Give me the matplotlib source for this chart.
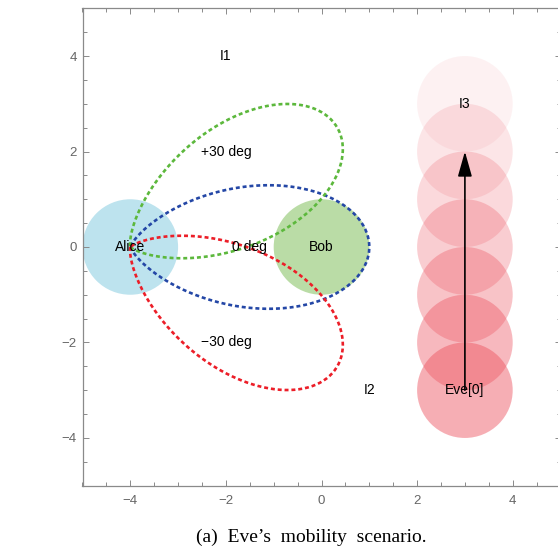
#!/usr/bin/env python3
"""
Eve's mobility scenario: Alice beam lobes (0 / +30 / -30 deg), Bob,
and Eve moving upward along x = 3.
"""

import numpy as np
import matplotlib.pyplot as plt
from matplotlib.patches import Circle, FancyArrowPatch
from matplotlib.ticker import MultipleLocator


# ---------------------------------------------------------------------
# Data
# ---------------------------------------------------------------------
alice_xy = (-4, 0)
bob_xy = (0, 0)
node_radius = 1.0

# Eve's positions along her path (bottom -> top) and fill opacity
eve_x = 3
eve_y = [-3, -2, -1, 0, 1, 2, 3]
eve_alpha = [0.47, 0.41, 0.35, 0.29, 0.22, 0.15, 0.08]

# Alice's beam lobes: steering angle (deg), reach and sharpness
beam_angles = [0, 30, -30]
beam_colors = ["#2447a6", "#5cb83c", "#ec1e28"]
beam_reach = 5.0
beam_order = 5

# Annotations
labels = ["I1", "+30 deg", "0 deg", "\u221230 deg", "Alice", "Bob", "I2", "I3", "Eve[0]"]
label_x = [-2, -2, -1.5, -2, -4, 0, 1, 3, 3]
label_y = [4, 2, 0, -2, 0, 0, -3, 3, -3]

# Eve's movement arrow
arrow_start = (3, -3)
arrow_end = (3, 2)

caption = "(a)  Eve\u2019s  mobility  scenario."


# ---------------------------------------------------------------------
# Helpers
# ---------------------------------------------------------------------
def lobe(origin, steer_deg, reach, order, n=400):
    """Polar beam pattern r = reach * cos^order(theta), rotated by steer_deg."""
    th = np.linspace(-np.pi / 2, np.pi / 2, n)
    r = reach * np.cos(th) ** order
    phi = th + np.deg2rad(steer_deg)
    return origin[0] + r * np.cos(phi), origin[1] + r * np.sin(phi)


# ---------------------------------------------------------------------
# Plot
# ---------------------------------------------------------------------
W, H = 558, 548
fig = plt.figure(figsize=(W / 100, H / 100), dpi=100)
ax = fig.add_axes([82.5 / W, 1 - 485.7 / H, (560.5 - 82.5) / W, (485.7 - 8.3) / H])

ax.add_patch(Circle(alice_xy, node_radius, facecolor="#bde3ee", edgecolor="none", zorder=1))
ax.add_patch(Circle(bob_xy, node_radius, facecolor="#badca6", edgecolor="none", zorder=1))

eve_rgb = (0.93, 0.33, 0.38)
for y, a in zip(eve_y, eve_alpha):
    ax.add_patch(Circle((eve_x, y), node_radius, facecolor=eve_rgb, alpha=a,
                        edgecolor="none", zorder=1))

for ang, col in zip(beam_angles, beam_colors):
    xs, ys = lobe(alice_xy, ang, beam_reach, beam_order)
    ax.plot(xs, ys, color=col, lw=1.9, linestyle=(0, (1.5, 1.1)), zorder=2)

ax.add_patch(FancyArrowPatch(arrow_start, arrow_end,
                             arrowstyle="-|>,head_length=0.85,head_width=0.24",
                             mutation_scale=18, lw=1.2, color="black",
                             shrinkA=0, shrinkB=0, zorder=3))

for t, x, y in zip(labels, label_x, label_y):
    ax.text(x, y, t, ha="center", va="center", fontsize=10,
            family="Liberation Sans", color="black", zorder=4)

ax.set_xlim(-5, 5)
ax.set_ylim(-5, 5)
ax.set_xticks(np.arange(-4, 5, 2))
ax.set_yticks(np.arange(-4, 5, 2))
ax.xaxis.set_minor_locator(MultipleLocator(0.5))
ax.yaxis.set_minor_locator(MultipleLocator(0.5))

spine_col = "#8a8a8a"
for s in ax.spines.values():
    s.set_color(spine_col)
    s.set_linewidth(0.9)

ax.tick_params(which="both", direction="in", top=True, right=True,
               color=spine_col, width=0.7)
ax.tick_params(which="major", length=4.5)
ax.tick_params(which="minor", length=2.8)
ax.tick_params(axis="x", pad=6.5)
ax.tick_params(axis="y", pad=4)
for lab in ax.get_xticklabels() + ax.get_yticklabels():
    lab.set_family("Liberation Sans")
    lab.set_fontsize(9.5)
    lab.set_color("#666666")

fig.text(311 / W, 1 - 542 / H, caption, ha="center", va="baseline",
         family="Liberation Serif", fontsize=14)

fig.savefig("out.png", dpi=100)
